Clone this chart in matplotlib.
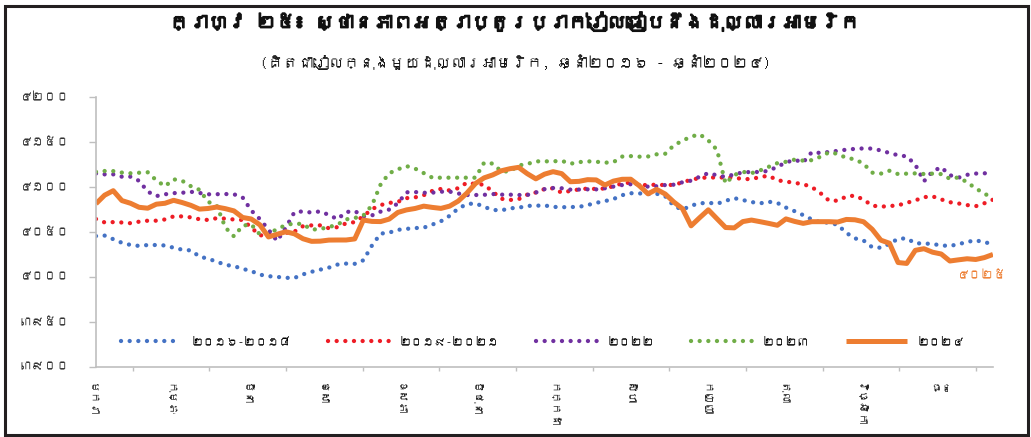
import numpy as np
import matplotlib
matplotlib.use('Agg')
import matplotlib.pyplot as plt
from matplotlib import font_manager
from matplotlib.patches import Rectangle
import matplotlib.patheffects as pe
import matplotlib.transforms as mtransforms

# --- data (riel per US dollar) ---
title = "ក្រាហ្វ ២៥៖ ស្ថានភាពអត្រាប្តូរប្រាក់រៀលធៀបនឹងដុល្លារអាមេរិក"
subtitle = "(គិតជារៀលក្នុងមួយដុល្លារអាមេរិក, ឆ្នាំ២០១៦ - ឆ្នាំ២០២៤)"

months = ['មករា', 'កុម្ភៈ', 'មីនា', 'មេសា', 'ឧសភា', 'មិថុនា',
          'កក្កដា', 'សីហា', 'កញ្ញា', 'តុលា', 'វិច្ឆិកា', 'ធ្នូ']
series_names = ['២០១៦-២០១៨', '២០១៩-២០២១', '២០២២', '២០២៣', '២០២៤']
y_ticks = [3900, 3950, 4000, 4050, 4100, 4150, 4200]

avg_2016_2018 = [4045.5, 4046, 4042, 4038, 4035.6, 4034.5, 4035.5, 4035.5, 4035, 4032.5,
                 4030.3, 4029.5, 4022.7, 4020.2, 4017, 4013.4, 4012, 4009, 4006.5, 4002.5,
                 4000.8, 4000, 3999, 3998.8, 4002.8, 4005.7, 4008.1, 4010.3, 4013.7, 4014.8,
                 4014.6, 4018.5, 4035, 4048.2, 4049.3, 4052.4, 4053.5, 4054.4, 4054.8, 4058.3,
                 4062, 4068, 4076.2, 4081, 4082, 4078, 4074.6, 4074.1, 4076.4, 4077,
                 4079.1, 4079.3, 4079.6, 4078, 4077.6, 4077.8, 4078, 4080, 4082.5, 4084.4,
                 4086.7, 4091, 4093.2, 4093, 4092.2, 4092.6, 4089.8, 4079, 4074.8, 4079.4,
                 4081.9, 4082.6, 4081.4, 4084.7, 4087.7, 4085.6, 4083.4, 4081.9, 4083.7, 4082.4,
                 4077.2, 4073.2, 4068.8, 4064, 4060.8, 4060.4, 4058, 4049, 4042.9, 4040.5,
                 4033, 4032.5, 4036.8, 4042.5, 4042.9, 4037.4, 4037.3, 4036.6, 4035.1, 4034.4,
                 4036.5, 4038.8, 4041, 4038.1, 4037.7]

avg_2019_2021 = [4064.5, 4060.7, 4061, 4060.6, 4059.8, 4061.5, 4062.6, 4062.6, 4064, 4067.4,
                 4067.4, 4066.3, 4064.2, 4063.4, 4065.4, 4064.9, 4063.9, 4063.4, 4055, 4046.2,
                 4046.8, 4047.6, 4049, 4050.4, 4056.5, 4057.4, 4057.4, 4054.2, 4055.4, 4059.7,
                 4061, 4067.6, 4075.5, 4080, 4082.4, 4083.6, 4087.7, 4088.6, 4091, 4095.8,
                 4098, 4096.3, 4098.8, 4104.9, 4103.4, 4102.7, 4095, 4087, 4085.7, 4086.5,
                 4091.6, 4094, 4097.8, 4098.7, 4093.8, 4095.8, 4097.4, 4098.4, 4097.9, 4098.5,
                 4101, 4104.1, 4105, 4103.2, 4101.8, 4103, 4102.1, 4102.6, 4105.2, 4108.3,
                 4110, 4110.9, 4110.5, 4110.9, 4110.6, 4108.9, 4109, 4111.2, 4112.7, 4107.6,
                 4106.2, 4104.7, 4103.3, 4100, 4093.3, 4084.9, 4084.9, 4089.5, 4090.6, 4086,
                 4079.4, 4078.2, 4078.9, 4079.7, 4082.5, 4085.2, 4088.8, 4089.7, 4086.3, 4083.2,
                 4081.8, 4080, 4078.7, 4082, 4086]

y2022 = [4115.2, 4114.2, 4114.2, 4111.6, 4111.6, 4107, 4095, 4090, 4092, 4093.3,
         4093.7, 4094.8, 4093.5, 4092, 4092.1, 4092.3, 4092, 4088.5, 4074, 4064.4,
         4052.6, 4040, 4054.7, 4072, 4073, 4071.6, 4073, 4069, 4064.3, 4072.2,
         4073.4, 4067.4, 4068.5, 4072.7, 4075, 4082, 4094.2, 4094.5, 4093.7, 4093.8,
         4094.9, 4095, 4092.9, 4091.2, 4091.2, 4091.4, 4092.3, 4091.6, 4091.6, 4091.2,
         4091.2, 4094, 4097.7, 4099, 4098.7, 4097.2, 4097.3, 4097.5, 4097.5, 4098.7,
         4100.6, 4102.3, 4103.2, 4102.3, 4100.5, 4101, 4102.3, 4102.7, 4105.4, 4107.2,
         4111.6, 4115.6, 4113.1, 4111.4, 4114.2, 4116.4, 4116.9, 4116.8, 4118.2, 4122.7,
         4127.4, 4130.4, 4127.6, 4139, 4138, 4139.2, 4140.4, 4141.7, 4142.6, 4143.1,
         4142.9, 4140.8, 4138, 4135.5, 4134.2, 4125, 4106.5, 4117.5, 4122.2, 4113.3,
         4110.5, 4113.7, 4115.1, 4115.3, 4117]

y2023 = [4117, 4117.9, 4117.8, 4116.2, 4115.4, 4116, 4116.5, 4107.5, 4101, 4108.7,
         4107, 4101, 4097, 4083.6, 4079.5, 4055, 4045.1, 4057, 4058.5, 4047.3,
         4048, 4053.2, 4057.7, 4059.6, 4058.7, 4052.6, 4053.4, 4055.5, 4058.2, 4064.1,
         4065.6, 4068.3, 4079.8, 4102.9, 4115.5, 4119.8, 4123.4, 4120.6, 4115.6, 4110.5,
         4110.5, 4110.5, 4110.5, 4110.5, 4110.5, 4127.2, 4126.2, 4117.4, 4117.5, 4124.1,
         4125.7, 4128.7, 4128.7, 4128.7, 4129.3, 4126, 4127.8, 4128.7, 4128.3, 4127.2,
         4127.8, 4134, 4134.5, 4133.9, 4134.1, 4136.5, 4137.2, 4146.5, 4151.7, 4156.2,
         4158.8, 4152, 4141.5, 4104, 4113.5, 4117, 4115.5, 4118.6, 4122.6, 4126.7,
         4128.2, 4130.6, 4129.5, 4130, 4133.8, 4138.8, 4137, 4132.5, 4131, 4126,
         4116.1, 4115, 4118.2, 4114.5, 4115, 4115.3, 4114.6, 4115, 4114.5, 4109.3,
         4110.8, 4105.5, 4098.5, 4093, 4087]

y2024 = [4081.5, 4091, 4096, 4085, 4082, 4077.5, 4076.5, 4081, 4082, 4085.3,
         4082.8, 4079.7, 4075.5, 4076.2, 4077.8, 4076, 4073.5, 4066.2, 4064.5, 4058,
         4044.5, 4047.4, 4050.3, 4048, 4042.5, 4039.6, 4039.8, 4041, 4041.1, 4041.1,
         4042.3, 4063.3, 4061.8, 4061.6, 4064.4, 4071.8, 4074.6, 4076.2, 4078.8, 4077.4,
         4076.3, 4078.8, 4084.4, 4093.3, 4104, 4110.3, 4113.6, 4118.2, 4120.5, 4122,
         4115, 4109.2, 4114.4, 4117.2, 4115, 4106, 4106.4, 4108.3, 4108, 4102.3,
         4106.7, 4108.7, 4108.8, 4101.5, 4092.5, 4097.5, 4092.3, 4083.4, 4076, 4056.9,
         4066, 4074.7, 4064.8, 4055, 4054.6, 4061.6, 4063.3, 4061.5, 4059.6, 4057.5,
         4064.6, 4061.8, 4059.6, 4061.5, 4061.5, 4061.5, 4061.1, 4064, 4063.6, 4061.4,
         4053, 4040.9, 4037.5, 4016, 4015, 4029.6, 4031.4, 4027.5, 4025.5, 4017.7,
         4019, 4020.2, 4019.4, 4021.5, 4025]

colors = ['#4472C4', '#EE1C25', '#7030A0', '#70AD47', '#ED7D31']


def khmer_num(v):
    return str(int(round(v))).translate(str.maketrans('0123456789', '០១២៣៤៥៦៧៨៩'))


def find_khmer_font():
    # look for any installed font that can draw Khmer
    try:
        from fontTools.ttLib import TTFont
    except ImportError:
        return None
    for f in font_manager.fontManager.ttflist:
        try:
            cmap = TTFont(f.fname, fontNumber=0, lazy=True).getBestCmap()
            if cmap and 0x1780 in cmap and 0x17E0 in cmap:
                return f.name
        except Exception:
            continue
    return None


khmer_font = find_khmer_font()
plt.rcParams['font.family'] = [khmer_font, 'DejaVu Sans'] if khmer_font else ['DejaVu Sans']

fig = plt.figure(figsize=(10.31, 4.37), dpi=100)
ax = fig.add_axes([0.0931, 0.1609, 0.870, 0.6164])

x_start, x_end = 0.522, 12.22
dotted = (0, (0.01, 2.0))
for vals, name, c in zip([avg_2016_2018, avg_2019_2021, y2022, y2023],
                         series_names[:4], colors[:4]):
    xs = np.linspace(x_start, x_end, len(vals))
    ax.plot(xs, vals, color=c, lw=3.1, linestyle=dotted,
            dash_capstyle='round', label=name)

xs24 = np.linspace(x_start, x_end, len(y2024))
ax.plot(xs24, y2024, color=colors[4], lw=3.6, solid_joinstyle='round',
        solid_capstyle='butt', label=series_names[4])

ax.annotate(khmer_num(y2024[-1]), xy=(xs24[-1], y2024[-1]), xytext=(10, -15),
            textcoords='offset points', ha='right', va='center',
            color=colors[4], fontsize=9)

ax.set_xlim(x_start, x_end)
ax.set_ylim(y_ticks[0], y_ticks[-1])
ax.set_yticks(y_ticks)
ax.set_yticklabels([khmer_num(v) for v in y_ticks], fontsize=9, color='#333333')
ax.set_xticks(np.arange(1, 13))
ax.set_xticklabels([])
ax.tick_params(axis='y', length=5, width=1, color='#BFBFBF', pad=14)
ax.tick_params(axis='x', length=3, width=1, color='#BFBFBF')

for s in ['top', 'right']:
    ax.spines[s].set_visible(False)
for s in ['left', 'bottom']:
    ax.spines[s].set_color('#BFBFBF')
    ax.spines[s].set_linewidth(1.2)

# month names sit between the tick marks
trans = mtransforms.blended_transform_factory(ax.transData, ax.transAxes)
for k, m in enumerate(months):
    if k == len(months) - 1:
        ax.text(k + 0.55, -0.065, m, transform=trans, ha='center', va='top',
                fontsize=7.5, color='#222222')
    else:
        ax.text(k + 0.48, -0.06, m, transform=trans, ha='center', va='top',
                rotation=-90, fontsize=8, color='#222222')

ax.legend(loc='center', bbox_to_anchor=(0.498, 0.095), ncol=5, frameon=False,
          fontsize=8.5, handlelength=5.1, handletextpad=0.95, columnspacing=3.1)

# the Khmer face has no bold weight, so thicken the title with a stroke
fig.text(0.5, 0.95, title, ha='center', va='center', fontsize=14,
         fontweight='bold', color='#111111',
         path_effects=[pe.withStroke(linewidth=1.1, foreground='#111111')])
fig.text(0.5, 0.858, subtitle, ha='center', va='center', fontsize=11,
         color='#111111')

fig.patches.append(Rectangle((0.0049, 0.0046), 0.9922, 0.9817, transform=fig.transFigure,
                             fill=False, lw=2.2, edgecolor='#231F20'))

fig.savefig('out.png', dpi=100)
